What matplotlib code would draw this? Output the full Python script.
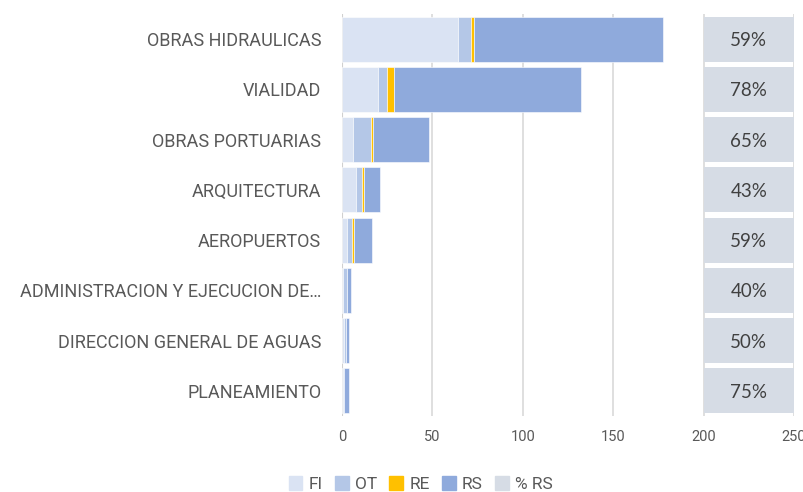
import numpy as np
import matplotlib.pyplot as plt
from matplotlib.patches import Patch

categories = ["OBRAS HIDRAULICAS", "VIALIDAD", "OBRAS PORTUARIAS", "ARQUITECTURA",
              "AEROPUERTOS", "ADMINISTRACION Y EJECUCION DE\u2026",
              "DIRECCION GENERAL DE AGUAS", "PLANEAMIENTO"]
fi = [64, 20, 6, 8, 2.8, 0.5, 1.0, 0.5]
ot = [7.5, 5, 10, 3, 2.9, 2.5, 1.0, 0.5]
re = [1.3, 4, 1.3, 1, 1.1, 0, 0, 0]
rs = [105, 103, 31, 9, 10, 2, 2, 3]
pct_rs = ["59%", "78%", "65%", "43%", "59%", "40%", "50%", "75%"]
xticks = [0, 50, 100, 150, 200, 250]

c_fi, c_ot, c_re, c_rs, c_pct = "#dae3f3", "#b4c7e7", "#ffc000", "#8faadc", "#d6dce5"
label_font = ["Roboto", "DejaVu Sans"]

fig = plt.figure(figsize=(8.04, 4.92), dpi=100)
ax = fig.add_axes([0.4254, 0.1545, 0.5622, 0.8170])

y = np.arange(len(categories))
h = 0.9
left = np.zeros(len(categories))
for vals, col in [(fi, c_fi), (ot, c_ot), (re, c_re), (rs, c_rs)]:
    ax.barh(y, vals, left=left, height=h, color=col, edgecolor="white", linewidth=0.4, zorder=3)
    left = left + np.array(vals)

# % RS boxes drawn in the band 200-250
ax.barh(y, [50] * len(y), left=200, height=h, color=c_pct, zorder=3)
for yi, t in zip(y, pct_rs):
    ax.text(225, yi + 0.03, t, ha="center", va="center", fontsize=13.5, color="#404040",
            family=["Lato", "DejaVu Sans"], zorder=4)

ax.set_xlim(0, 250)
ax.set_ylim(len(categories) - 0.5, -0.5)
ax.set_xticks(xticks)
ax.set_xticklabels([str(v) for v in xticks], fontsize=10.5, color="#595959",
                   family=label_font)
ax.set_yticks(y)
ax.set_yticklabels(categories, fontsize=13, color="#595959", family=label_font)
ax.tick_params(axis="both", length=0)
ax.tick_params(axis="y", pad=15)
ax.tick_params(axis="x", pad=10)
ax.grid(axis="x", color="#d9d9d9", linewidth=1.2, zorder=0)
for s in ax.spines.values():
    s.set_visible(False)
ax.axvline(0, color="#d0d0d0", linewidth=1.5, zorder=2)

handles = [Patch(color=c) for c in (c_fi, c_ot, c_re, c_rs, c_pct)]
fig.legend(handles, ["FI", "OT", "RE", "RS", "% RS"], loc="center",
           bbox_to_anchor=(0.523, 0.016), ncol=5, frameon=False,
           handlelength=0.8, handleheight=0.8, handletextpad=0.35, columnspacing=0.7,
           prop={"family": label_font, "size": 12.5}, labelcolor="#595959")

fig.savefig("out.png", dpi=100)
